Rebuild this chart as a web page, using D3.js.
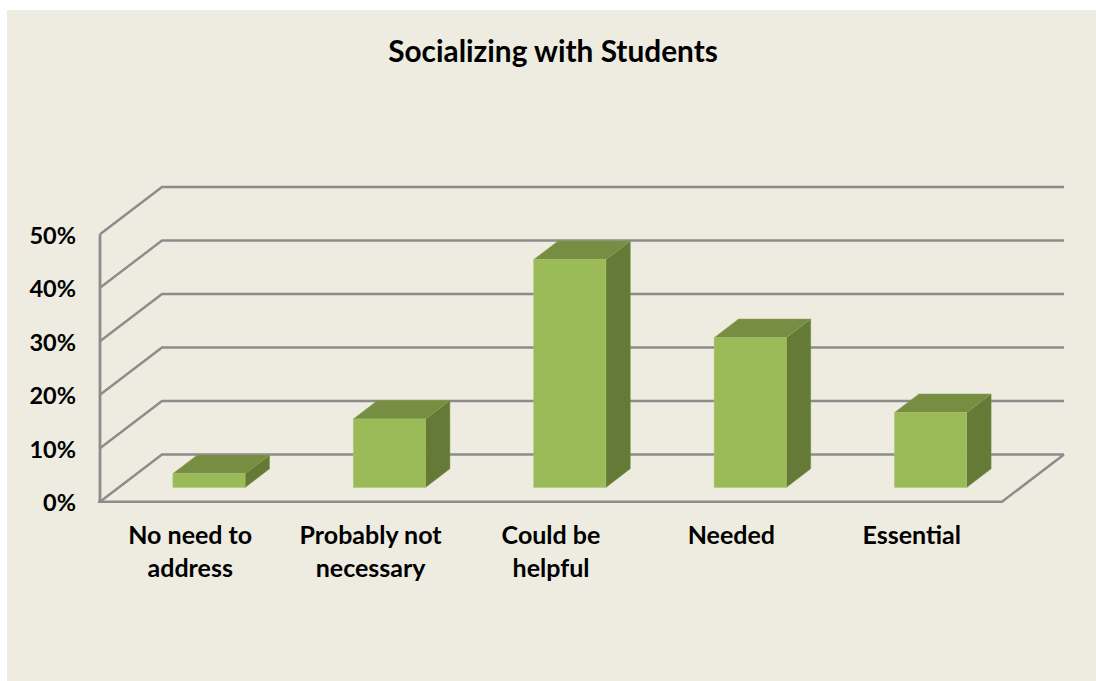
<!DOCTYPE html>
<html><head><meta charset="utf-8">
<script src="https://cdn.jsdelivr.net/npm/d3@7"></script>
<style>html,body{margin:0;padding:0;background:#fff}svg{display:block}text{font-family:Lato,"Open Sans",sans-serif;font-weight:700;fill:#000}</style>
</head><body><svg id="c" width="1096" height="681"></svg>
<script>
const titleText = "Socializing with Students";
const categories = ["No need to address","Probably not necessary","Could be helpful","Needed","Essential"];
const categoryLines = [["No need to","address"],["Probably not","necessary"],["Could be","helpful"],["Needed"],["Essential"]];
const values = [2.6,12.8,42.6,28,14];
const ticks = [0,10,20,30,40,50];

const svg = d3.select("#c");
svg.append("rect").attr("x",7).attr("y",10).attr("width",1089).attr("height",671).attr("fill","#EEECE1");

const x = d3.scaleBand().domain(categories).range([100,1002]).paddingInner(0.6).paddingOuter(0.3);
const y = d3.scaleLinear().domain([0,50]).range([501.8,234.3]);
const depthX = d3.scaleLinear().domain([0,1]).range([0,62]);
const depthY = d3.scaleLinear().domain([0,1]).range([0,-47.3]);
const d0 = 0.303, d1 = 0.697;
const grid = "#8C8C8C";
const pt = (px,py,d)=>[px+depthX(d),py+depthY(d)];
const line = d3.line();

// gridlines and walls
const g = svg.append("g").attr("fill","none").attr("stroke",grid).attr("stroke-width",2.4);
ticks.forEach(t=>{
  g.append("path").attr("d",line([[100,y(t)],pt(100,y(t),1),pt(1002,y(t),1)]));
});
g.append("path").attr("d",line([[100,y(50)],[100,y(0)]])).attr("stroke-width",2.8);
g.append("path").attr("d",line([[98,y(0)],[1002,y(0)],pt(1002,y(0),1)]));

// bars
const bars = svg.append("g").selectAll("g").data(categories).join("g");
bars.each(function(c,i){
  const s = d3.select(this), l = x(c)+depthX(d0)-depthX(0), r = l+x.bandwidth();
  const yb = y(0)+depthY(d0), yt = y(values[i])+depthY(d0), dd = d1-d0;
  const edge = "#A9C56E";
  s.append("path").attr("fill","#657A36").attr("stroke","#7A9048").attr("stroke-width",.5)
   .attr("d",line([[r,yb],pt(r,yb,dd),pt(r,yt,dd),[r,yt]])+"Z");
  s.append("path").attr("fill","#778E42").attr("stroke","#8CA552").attr("stroke-width",.5)
   .attr("d",line([[l,yt],pt(l,yt,dd),pt(r,yt,dd),[r,yt]])+"Z");
  s.append("rect").attr("x",l).attr("y",yt).attr("width",r-l).attr("height",yb-yt)
   .attr("fill","#9BBB59").attr("stroke",edge).attr("stroke-width",.5);
});

// text
svg.append("text").attr("x",553).attr("y",62).attr("text-anchor","middle").attr("font-size",29.8).text(titleText);
svg.append("g").selectAll("text").data(ticks).join("text")
  .attr("x",76).attr("y",t=>y(t)+9.5).attr("text-anchor","end").attr("font-size",23.5).text(t=>t+"%");
const lab = svg.append("g").selectAll("text").data(categories).join("text")
  .attr("text-anchor","middle").attr("font-size",25);
lab.each(function(c,i){
  const cx = x(c)+x.bandwidth()/2;
  d3.select(this).selectAll("tspan").data(categoryLines[i]).join("tspan")
    .attr("x",cx).attr("y",(d,k)=>543.5+k*33).text(d=>d);
});
</script></body></html>
